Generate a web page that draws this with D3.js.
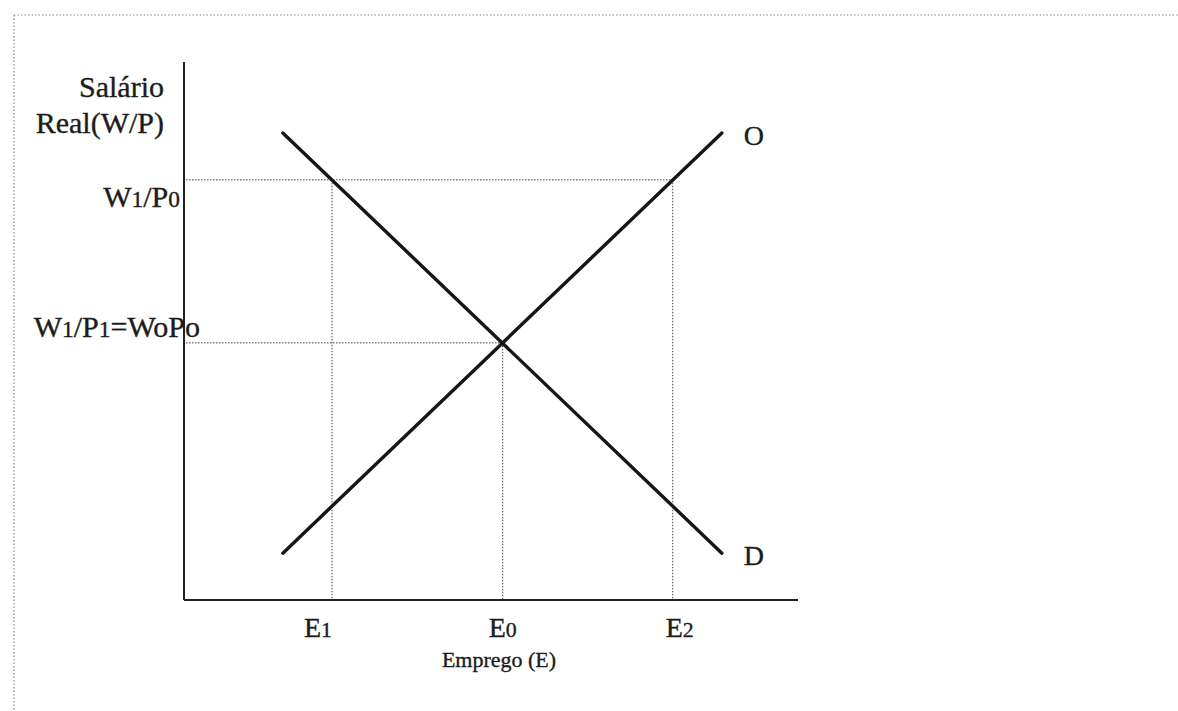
<html>
<head>
<meta charset="utf-8">
<script src="https://cdn.jsdelivr.net/npm/d3@7"></script>
<style>
body {
	margin: 0;
	background: #fff;
}
text {
	font-family: "Liberation Serif", "Times New Roman", serif;
	fill: #1c1c1c;
	stroke: #1c1c1c;
	stroke-width: 0.35;
}
</style>
</head>
<body>
<svg id="chart" width="1178" height="711"></svg>
<script>

// valores (escala 0-100 nos dois eixos)
var eLabels = ["E1", "E0", "E2"];
var ePos = [24.1, 51.9, 79.6];          // posição no eixo do emprego
var eGuideTop = [78.1, 47.8, 78.1];     // até onde vai a linha pontilhada vertical

var wLabels = ["W1/P0", "W1/P1=WoPo"];
var wPos = [78.1, 47.8];                // salário real
var wGuideEnd = [79.6, 51.9];           // até onde vai a linha pontilhada horizontal

var curveNames = ["D", "O"];
var curveStart = [[16.1, 86.8], [16.1, 8.7]];
var curveEnd = [[87.6, 8.7], [87.6, 86.8]];

var yTitle = ["Salário", "Real(W/P)"];
var xTitle = "Emprego (E)";

var svg = d3.select("#chart");

var x = d3.scaleLinear().domain([0, 100]).range([184, 798]);
var y = d3.scaleLinear().domain([0, 100]).range([600, 62]);

// moldura pontilhada
svg.append("line")
	.attr("x1", 14).attr("y1", 15).attr("x2", 1178).attr("y2", 15)
	.attr("stroke", "#888").attr("stroke-width", 1.2).attr("stroke-dasharray", "1.5,2");
svg.append("line")
	.attr("x1", 14).attr("y1", 15).attr("x2", 14).attr("y2", 711)
	.attr("stroke", "#888").attr("stroke-width", 1.2).attr("stroke-dasharray", "1.5,2");

// escreve texto com os números um pouco menores (tipo índice)
function richText(sel, str, size) {
	var parts = str.match(/\d+|[^\d]+/g);
	parts.forEach(function(p) {
		sel.append("tspan")
			.attr("font-size", /\d/.test(p) ? size * 0.78 : size)
			.text(p);
	});
}

// linhas pontilhadas horizontais
for (let i = 0; i < wPos.length; i++) {
	svg.append("line")
		.attr("x1", x(0) + 2).attr("y1", y(wPos[i]))
		.attr("x2", x(wGuideEnd[i])).attr("y2", y(wPos[i]))
		.attr("stroke", "#444").attr("stroke-width", 1).attr("stroke-dasharray", "1.5,1.5");
}
// linhas pontilhadas verticais
for (let i = 0; i < ePos.length; i++) {
	svg.append("line")
		.attr("x1", x(ePos[i])).attr("y1", y(eGuideTop[i]))
		.attr("x2", x(ePos[i])).attr("y2", y(0))
		.attr("stroke", "#444").attr("stroke-width", 1).attr("stroke-dasharray", "1.5,1.5");
}

// eixos
svg.append("line")
	.attr("x1", x(0)).attr("y1", y(100)).attr("x2", x(0)).attr("y2", y(0))
	.attr("stroke", "#222").attr("stroke-width", 2);
svg.append("line")
	.attr("x1", x(0)).attr("y1", y(0)).attr("x2", x(100)).attr("y2", y(0))
	.attr("stroke", "#222").attr("stroke-width", 2);

// curvas de oferta e demanda
var line = d3.line().x(function(d) { return x(d[0]); }).y(function(d) { return y(d[1]); });
for (let i = 0; i < curveNames.length; i++) {
	svg.append("path")
		.attr("d", line([curveStart[i], curveEnd[i]]))
		.attr("fill", "none")
		.attr("stroke", "#161616")
		.attr("stroke-width", 3.4)
		.attr("stroke-linecap", "round");
	svg.append("text")
		.attr("x", x(curveEnd[i][0]) + 32)
		.attr("y", y(curveEnd[i][1]) + 12)
		.attr("text-anchor", "middle")
		.attr("font-size", 28)
		.text(curveNames[i]);
}

// título do eixo y
var yTitleBase = [97, 133];
for (let i = 0; i < yTitle.length; i++) {
	svg.append("text")
		.attr("x", 164)
		.attr("y", yTitleBase[i])
		.attr("text-anchor", "end")
		.attr("font-size", 30)
		.text(yTitle[i]);
}

// rótulos do eixo y
var wLabelDx = [-4, 16];
var wLabelDy = [27, -6];
for (let i = 0; i < wLabels.length; i++) {
	var t = svg.append("text")
		.attr("x", x(0) + wLabelDx[i])
		.attr("y", y(wPos[i]) + wLabelDy[i])
		.attr("text-anchor", "end");
	richText(t, wLabels[i], 30);
}

// rótulos do eixo x
var eLabelDx = [-14, 0, 7];
for (let i = 0; i < eLabels.length; i++) {
	var t = svg.append("text")
		.attr("x", x(ePos[i]) + eLabelDx[i])
		.attr("y", 637)
		.attr("text-anchor", "middle");
	richText(t, eLabels[i], 28);
}

svg.append("text")
	.attr("x", 499)
	.attr("y", 667)
	.attr("text-anchor", "middle")
	.attr("font-size", 22)
	.attr("stroke-width", 0.2)
	.text(xTitle);

</script>
</body>
</html>
